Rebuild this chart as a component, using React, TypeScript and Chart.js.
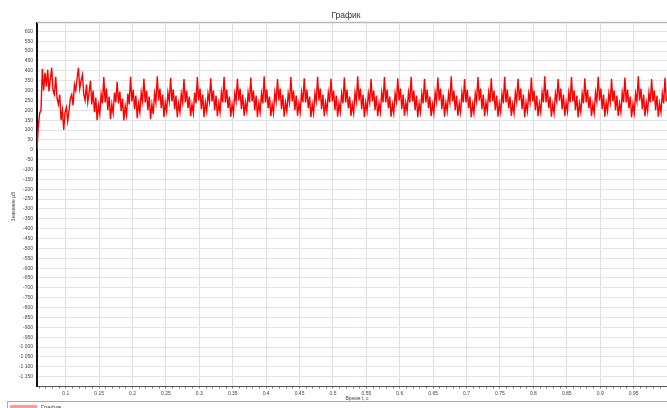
import React, { useEffect, useRef } from "react";
import { Chart, registerables } from "chart.js";

Chart.register(...registerables);

const chartTitle = "График";
const seriesLabel = "График";
const xAxisTitle = "Время t, c";
const yAxisTitle = "Значение µВ";

// sampling of the signal
const T0 = 0.057;
const DT = 0.002;

// start-up transient
const transientValues = [
  0, 120, 185, 200, 410, 300, 390, 320, 405, 295,
  360, 415, 300, 280, 370, 260, 230, 280, 150, 200,
  100, 190, 215, 145, 200, 260, 280, 225, 330, 300,
  360, 415, 310, 350, 380, 280, 250, 330, 240, 290,
];

// steady oscillation (one row ≈ one 20 ms period)
const steadyValues = [
  350, 230, 300, 190, 265, 150, 225, 180, 280, 235,
  368, 240, 310, 200, 270, 155, 230, 185, 290, 240,
  345, 235, 295, 195, 260, 148, 220, 175, 285, 230,
  370, 245, 305, 205, 275, 160, 235, 190, 290, 245,
  360, 240, 300, 200, 270, 155, 230, 180, 285, 240,
  372, 250, 310, 210, 280, 165, 240, 195, 290, 245,
  365, 245, 305, 205, 275, 165, 235, 190, 285, 240,
  358, 240, 300, 210, 270, 170, 230, 185, 290, 235,
  368, 250, 310, 205, 280, 165, 240, 195, 285, 245,
  362, 245, 300, 200, 275, 170, 235, 190, 290, 240,
  370, 240, 305, 210, 270, 168, 230, 185, 285, 245,
  360, 250, 310, 205, 280, 172, 240, 195, 290, 240,
  366, 245, 300, 200, 275, 165, 235, 190, 285, 235,
  372, 240, 305, 210, 270, 170, 230, 185, 290, 245,
  358, 250, 310, 205, 280, 168, 240, 195, 285, 240,
  368, 245, 300, 200, 275, 172, 235, 190, 290, 240,
  362, 240, 305, 210, 270, 165, 230, 185, 285, 245,
  370, 250, 310, 205, 280, 170, 240, 195, 290, 240,
  360, 245, 300, 200, 275, 168, 235, 190, 285, 235,
  366, 240, 305, 210, 270, 172, 230, 185, 290, 245,
  372, 250, 310, 205, 280, 165, 240, 195, 285, 240,
  358, 245, 300, 200, 275, 170, 235, 190, 290, 240,
  368, 240, 305, 210, 270, 168, 230, 185, 285, 245,
  362, 250, 310, 205, 280, 172, 240, 195, 290, 240,
  370, 245, 300, 200, 275, 165, 235, 190, 285, 235,
  360, 240, 305, 210, 270, 170, 230, 185, 290, 245,
  366, 250, 310, 205, 280, 168, 240, 195, 285, 240,
  372, 245, 300, 200, 275, 172, 235, 190, 290, 240,
  358, 240, 305, 210, 270, 165, 230, 185, 285, 245,
  368, 250, 310, 205, 280, 170, 240, 195, 290, 240,
  362, 245, 300, 200, 275, 168, 235, 190, 285, 235,
  370, 240, 305, 210, 270, 172, 230, 185, 290, 245,
  360, 250, 310, 205, 280, 165, 240, 195, 285, 240,
  366, 245, 300, 200, 275, 170, 235, 190, 290, 240,
  372, 240, 305, 210, 270, 168, 230, 185, 285, 245,
  358, 250, 310, 205, 280, 172, 240, 195, 290, 240,
  368, 245, 300, 200, 275, 165, 235, 190, 285, 235,
  362, 240, 305, 210, 270, 170, 230, 185, 290, 245,
  370, 250, 310, 205, 280, 168, 240, 195, 285, 240,
  360, 245, 300, 200, 275, 172, 235, 190, 290, 240,
  366, 240, 305, 210, 270, 165, 230, 185, 285, 245,
  372, 250, 310, 205, 280, 170, 240, 195, 290, 240,
  358, 245, 300, 200, 275, 168, 235, 190, 285, 235,
  365, 245,
];

const yTicks = [
  600, 550, 500, 450, 400, 350, 300, 250, 200, 150, 100, 50, 0,
  -50, -100, -150, -200, -250, -300, -350, -400, -450, -500, -550,
  -600, -650, -700, -750, -800, -850, -900, -950, -1000, -1050,
  -1100, -1150,
];

const xMajorTicks = [
  0.1, 0.15, 0.2, 0.25, 0.3, 0.35, 0.4, 0.45, 0.5, 0.55,
  0.6, 0.65, 0.7, 0.75, 0.8, 0.85, 0.9, 0.95,
];

const X_MIN = 0.057;
const X_MAX = 1.0;
const Y_MIN = -1200;
const Y_MAX = 645;

const FONT = "'Liberation Sans', Arial, sans-serif";

function fmtY(v: number): string {
  const a = Math.abs(v);
  let s = String(a);
  if (a >= 1000) s = s.slice(0, s.length - 3) + " " + s.slice(s.length - 3);
  return (v < 0 ? "-" : "") + s;
}

function isMajorX(v: number): boolean {
  return xMajorTicks.some((m) => Math.abs(m - v) < 1e-6);
}

export default function App() {
  const ref = useRef<HTMLCanvasElement | null>(null);

  useEffect(() => {
    document.body.style.margin = "0";
    const canvas = ref.current;
    if (!canvas) return;
    const values = [...transientValues, ...steadyValues];
    const data = values.map((v, i) => ({ x: T0 + i * DT, y: v }));

    const decor = {
      id: "decor",
      afterDraw(chart: any) {
        const ctx = chart.ctx;
        const a = chart.chartArea;
        ctx.save();
        // top frame line
        ctx.strokeStyle = "#b8b8b8";
        ctx.lineWidth = 1.5;
        ctx.beginPath();
        ctx.moveTo(a.left, a.top);
        ctx.lineTo(a.right, a.top);
        ctx.stroke();
        // title
        ctx.fillStyle = "#333";
        ctx.font = `8.5px ${FONT}`;
        ctx.textAlign = "center";
        ctx.textBaseline = "middle";
        ctx.fillText(chartTitle, 346, 16);
        // x axis title
        ctx.font = `5px ${FONT}`;
        ctx.fillStyle = "#444";
        ctx.fillText(xAxisTitle, (a.left + a.right) / 2 + 5, 399);
        // y axis title
        ctx.save();
        ctx.translate(14, (a.top + a.bottom) / 2 + 2);
        ctx.rotate(-Math.PI / 2);
        ctx.fillText(yAxisTitle, 0, 0);
        ctx.restore();
        // legend frame
        ctx.strokeStyle = "#a8a8a8";
        ctx.lineWidth = 1;
        ctx.strokeRect(7.5, 401.5, 680, 20);
        ctx.fillStyle = "#ff9a9a";
        ctx.fillRect(10, 405, 27, 6);
        ctx.fillStyle = "#444";
        ctx.font = `6px ${FONT}`;
        ctx.textAlign = "left";
        ctx.textBaseline = "top";
        ctx.fillText(chart.data.datasets[0].label, 41, 404.5);
        ctx.restore();
      },
    };

    const chart = new Chart(canvas, {
      type: "line",
      data: {
        datasets: [
          {
            label: seriesLabel,
            data,
            borderColor: "#ff0000",
            borderWidth: 1.4,
            pointRadius: 0,
            tension: 0,
            fill: false,
          },
        ],
      },
      options: {
        animation: false,
        responsive: false,
        maintainAspectRatio: false,
        layout: { padding: { top: 22.5, left: 0, right: 0, bottom: 0 } },
        plugins: {
          legend: { display: false },
          title: { display: false },
          tooltip: { enabled: false },
        },
        scales: {
          x: {
            type: "linear",
            min: X_MIN,
            max: X_MAX,
            afterBuildTicks(scale: any) {
              const t: any[] = [];
              for (let k = 6; k <= 100; k++) t.push({ value: k / 100 });
              scale.ticks = t;
            },
            afterFit(scale: any) {
              scale.height = 21.5;
              scale.paddingLeft = 0;
              scale.paddingRight = 0;
            },
            ticks: {
              autoSkip: false,
              maxRotation: 0,
              padding: 2,
              color: "#444",
              font: { size: 5, family: FONT },
              callback: (v: any) => (isMajorX(Number(v)) ? String(Math.round(Number(v) * 100) / 100) : ""),
            },
            grid: {
              color: (c: any) => (c.tick && isMajorX(c.tick.value) ? "#e0e0e0" : "rgba(0,0,0,0)"),
              tickColor: "#777",
              tickLength: 2,
              lineWidth: 1,
            },
            border: { color: "#555", width: 1 },
          },
          y: {
            type: "linear",
            min: Y_MIN,
            max: Y_MAX,
            afterBuildTicks(scale: any) {
              scale.ticks = yTicks.map((v) => ({ value: v }));
            },
            afterFit(scale: any) {
              scale.width = 37;
              scale.paddingTop = 0;
              scale.paddingBottom = 0;
            },
            ticks: {
              autoSkip: false,
              padding: 4,
              color: "#444",
              font: { size: 5, family: FONT },
              callback: (v: any) => fmtY(Number(v)),
            },
            grid: {
              color: "#e4e4e4",
              lineWidth: 1,
              drawTicks: false,
            },
            border: { color: "#111", width: 2 },
          },
        },
      },
      plugins: [decor],
    });
    return () => chart.destroy();
  }, []);

  return (
    <div style={{ width: 667, height: 408, overflow: "hidden" }}>
      <canvas ref={ref} width={667} height={408} style={{ display: "block", width: 667, height: 408 }} />
    </div>
  );
}
